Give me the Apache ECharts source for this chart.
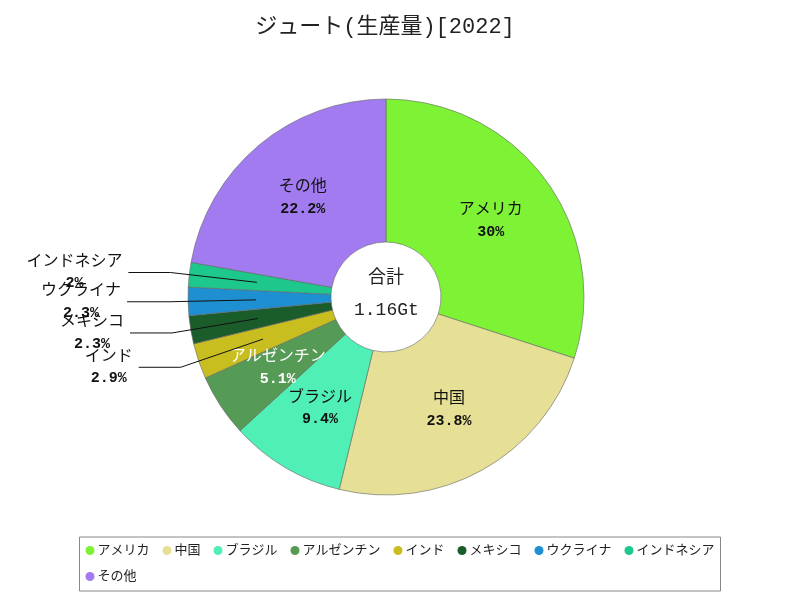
<!DOCTYPE html>
<html>
<head>
<meta charset="utf-8">
<script src="https://cdn.jsdelivr.net/npm/echarts@6/dist/echarts.min.js"></script>
<style>html,body{margin:0;padding:0;background:#fff}#c{width:800px;height:600px}</style>
</head>
<body>
<div id="c"></div>
<script>
const titleText = 'ジュート(生産量)[2022]';
const categories = ['アメリカ', '中国', 'ブラジル', 'アルゼンチン', 'インド', 'メキシコ', 'ウクライナ', 'インドネシア', 'その他'];
const shares = [30, 23.8, 9.4, 5.1, 2.9, 2.3, 2.3, 2, 22.2];
const colors = ['#7ef234', '#e6e096', '#50efb6', '#559a55', '#c9be1f', '#1b5c2b', '#1e90d2', '#1ec88c', '#a17bef'];
const outsideLabelNames = ['インド', 'メキシコ', 'ウクライナ', 'インドネシア'];
const whiteLabelNames = ['アルゼンチン'];
const totalCaption = '合計';
const totalLabel = '1.16Gt';

const FONT = "'Liberation Mono', 'Noto Sans CJK JP', sans-serif";
const chart = echarts.init(document.getElementById('c'), null, {renderer: 'canvas'});
const cx = 386, cy = 297;

const mainData = categories.map((n, i) => {
  const inside = outsideLabelNames.indexOf(n) < 0;
  const white = whiteLabelNames.indexOf(n) >= 0;
  return {
    name: n, value: shares[i],
    itemStyle: {color: colors[i]},
    label: {show: inside, color: white ? '#ffffff' : '#111111'}
  };
});
const labelData = categories.map((n, i) => ({
  name: n, value: shares[i],
  label: {show: outsideLabelNames.indexOf(n) >= 0},
  labelLine: {show: outsideLabelNames.indexOf(n) >= 0}
}));

const fmt = p => '{n|' + p.name + '}\n{p|' + p.value + '%}';

chart.setOption({
  animation: false,
  backgroundColor: '#ffffff',
  title: {
    text: titleText, left: 380, textAlign: 'center', top: 11,
    textStyle: {fontFamily: FONT, fontSize: 22, fontWeight: 'normal', color: '#222'}
  },
  legend: {
    data: categories, left: 'center', top: 537, width: 670,
    icon: 'circle', itemWidth: 9, itemHeight: 9, itemGap: 13,
    padding: [7, 6, 8, 6],
    borderColor: '#888', borderWidth: 1,
    itemStyle: {borderWidth: 0},
    textStyle: {fontFamily: FONT, fontSize: 13, color: '#222', padding: [0, 0, 0, -2]}
  },
  graphic: [
    {type: 'text', left: cx - 18, top: cy - 30, style: {text: totalCaption, font: "18px 'Noto Sans CJK JP'", fill: '#222'}},
    {type: 'text', left: cx - 32, top: cy + 4, style: {text: totalLabel, font: "18px " + FONT, fill: '#222'}}
  ],
  series: [
    {
      type: 'pie', center: [cx, cy], radius: [55, 198], startAngle: 90, clockwise: true,
      avoidLabelOverlap: false, z: 2,
      itemStyle: {borderColor: '#666', borderWidth: 0.6},
      label: {
        position: 'inner', formatter: fmt,
        rich: {
          n: {fontFamily: FONT, fontSize: 16, lineHeight: 22, align: 'center'},
          p: {fontFamily: FONT, fontSize: 15, fontWeight: 'bold', lineHeight: 22, align: 'center'}
        }
      },
      labelLine: {show: false},
      labelLayout: {hideOverlap: false},
      data: mainData
    },
    {
      type: 'pie', center: [cx, cy], radius: [0, 130], startAngle: 90, clockwise: true,
      silent: true, avoidLabelOverlap: false, legendHoverLink: false, z: 5,
      itemStyle: {color: 'rgba(0,0,0,0)', borderWidth: 0},
      label: {
        position: 'outside', formatter: fmt, distanceToLabelLine: 6, color: '#111',
        rich: {
          n: {fontFamily: FONT, fontSize: 16, lineHeight: 22, align: 'center', color: '#111'},
          p: {fontFamily: FONT, fontSize: 15, fontWeight: 'bold', lineHeight: 22, align: 'center', color: '#111'}
        }
      },
      labelLine: {length: 87, length2: 42, lineStyle: {color: '#111', width: 1}},
      labelLayout: {hideOverlap: false},
      emphasis: {disabled: true},
      data: labelData
    }
  ]
});
</script>
</body>
</html>
